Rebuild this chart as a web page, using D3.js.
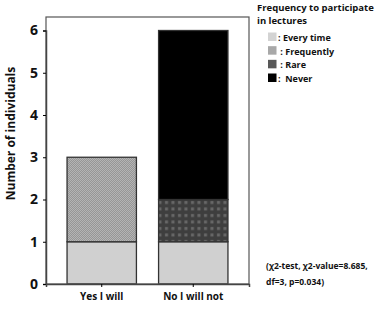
<!DOCTYPE html>
<html>
<head>
<meta charset="utf-8">
<script src="https://cdn.jsdelivr.net/npm/d3@7"></script>
<style>
  body { margin: 0; background: #fff; }
  svg { display: block; font-family: "Open Sans", sans-serif; font-weight: 700; }
</style>
</head>
<body>
<svg></svg>
<script>
var categories = ["Yes I will", "No I will not"];
var keys = ["every", "frequently", "rare", "never"];
var legendLabels = [": Every time", " : Frequently", " : Rare", ":  Never"];
var everyTime = [1, 1];
var frequently = [2, 0];
var rare = [0, 1];
var never = [0, 4];
var yTicks = [0, 1, 2, 3, 4, 5, 6];

var viewWidth = 384, viewHeight = 309;
var margin = {top: 17, right: 135, bottom: 25, left: 46};
var width = 249 - margin.left;
var height = 284 - margin.top;
var font = "'Open Sans', sans-serif";

var svg = d3.select("svg")
    .attr("width", viewWidth)
    .attr("height", viewHeight);

var defs = svg.append("defs");

// fine checker for "Frequently"
var p1 = defs.append("pattern").attr("id", "pFreq")
    .attr("width", 2).attr("height", 2).attr("patternUnits", "userSpaceOnUse");
p1.append("rect").attr("width", 2).attr("height", 2).attr("fill", "#b4b4b4");
p1.append("rect").attr("width", 1).attr("height", 1).attr("fill", "#969696");
p1.append("rect").attr("x", 1).attr("y", 1).attr("width", 1).attr("height", 1).attr("fill", "#969696");

// dotted dark grey for "Rare"
var p2 = defs.append("pattern").attr("id", "pRare")
    .attr("width", 6.5).attr("height", 6.5).attr("patternUnits", "userSpaceOnUse");
p2.append("rect").attr("width", 6.5).attr("height", 6.5).attr("fill", "#3e3e3e");
p2.append("rect").attr("x", 2).attr("y", 2).attr("width", 3).attr("height", 3).attr("fill", "#686868");

var fills = {every: "#d0d0d0", frequently: "url(#pFreq)", rare: "url(#pRare)", never: "#000"};
var legendFills = {every: "#d3d3d3", frequently: "#a8a8a8", rare: "#585858", never: "#000"};

var data = categories.map(function(c, i) {
    return {cat: c, every: everyTime[i], frequently: frequently[i], rare: rare[i], never: never[i]};
});
var stackedData = d3.stack().keys(keys)(data);

var g = svg.append("g")
    .attr("transform", "translate(" + margin.left + "," + margin.top + ")");

var x = d3.scaleBand()
    .domain(categories)
    .range([0, width])
    .paddingInner(0.242)
    .paddingOuter(0.23);

var y = d3.scaleLinear()
    .domain([0, 6])
    .range([height, 13.5]);

g.selectAll("layer")
    .data(stackedData)
    .enter()
    .append("g")
    .attr("fill", function(d) { return fills[d.key]; })
    .selectAll("rect")
    .data(function(d) { return d.filter(function(s) { return s[1] > s[0]; }); })
    .enter()
    .append("rect")
      .attr("x", function(d) { return x(d.data.cat); })
      .attr("y", function(d) { return y(d[1]); })
      .attr("width", x.bandwidth())
      .attr("height", function(d) { return y(d[0]) - y(d[1]); })
      .attr("stroke", "#333")
      .attr("stroke-width", 1.3);

// frame
g.append("rect")
    .attr("width", width)
    .attr("height", height)
    .attr("fill", "none")
    .attr("stroke", "#555")
    .attr("stroke-width", 1.2);

var yAxis = g.append("g")
    .call(d3.axisLeft(y).tickValues(yTicks).tickSize(3).tickPadding(5).tickFormat(d3.format("d")));
yAxis.select(".domain").attr("stroke", "#444").attr("stroke-width", 1.5);
yAxis.selectAll("text").attr("font-size", 14).attr("font-weight", 700)
    .attr("font-family", font).attr("fill", "#111");

var xAxis = g.append("g")
    .attr("transform", "translate(0," + height + ")")
    .call(d3.axisBottom(x).tickSize(3).tickPadding(6));
xAxis.select(".domain").attr("stroke", "#444").attr("stroke-width", 1.5);
xAxis.selectAll("text").attr("font-size", 10).attr("font-weight", 700)
    .attr("font-family", font).attr("fill", "#111");

g.append("text")
    .attr("transform", "rotate(-90)")
    .attr("x", -height / 2 + 17)
    .attr("y", -margin.left + 15)
    .attr("text-anchor", "middle")
    .attr("font-size", 12)
    .attr("fill", "#111")
    .text("Number of individuals");

// legend
var lg = svg.append("g").attr("transform", "translate(257,0)");
lg.append("text").attr("x", 0).attr("y", 10.5).attr("font-size", 9.5).attr("fill", "#111")
    .text("Frequency to participate");
lg.append("text").attr("x", 0).attr("y", 23.5).attr("font-size", 9.5).attr("fill", "#111")
    .text("in lectures");

var rowY = d3.scalePoint().domain(keys).range([37, 78]);
lg.selectAll("lrect")
    .data(keys)
    .enter()
    .append("rect")
      .attr("x", 11)
      .attr("y", function(d) { return rowY(d) - 4.5; })
      .attr("width", 8.5)
      .attr("height", 8.5)
      .attr("fill", function(d) { return legendFills[d]; });
lg.selectAll("ltext")
    .data(keys)
    .enter()
    .append("text")
      .attr("x", 21)
      .attr("y", function(d) { return rowY(d) + 4; })
      .attr("font-size", 9)
      .attr("fill", "#111")
      .attr("xml:space", "preserve")
      .text(function(d, i) { return legendLabels[i]; });

// stats note
var note = svg.append("g").attr("transform", "translate(266,0)");
note.append("text").attr("y", 269).attr("font-size", 8.5).attr("fill", "#111")
    .text("(\u03c72-test, \u03c72-value=8.685,");
note.append("text").attr("y", 285).attr("font-size", 8.5).attr("fill", "#111")
    .text("df=3, p=0.034)");
</script>
</body>
</html>
